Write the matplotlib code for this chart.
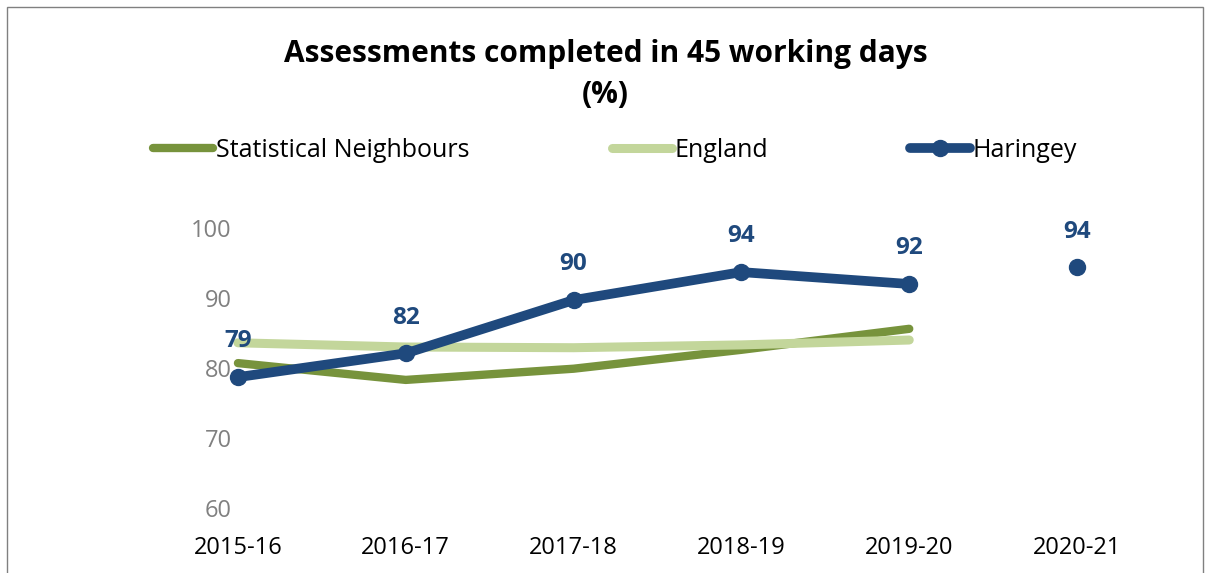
import matplotlib.pyplot as plt
from matplotlib.patches import Rectangle

years = ['2015-16', '2016-17', '2017-18', '2018-19', '2019-20', '2020-21']
stat_neighbours = [80.7, 78.3, 79.9, 82.6, 85.6]
england = [83.6, 83.0, 82.9, 83.3, 84.0]
haringey = [78.7, 82.1, 89.7, 93.7, 92.0, 94.4]
haringey_labels = ['79', '82', '90', '94', '92', '94']

plt.rcParams['font.family'] = ['Open Sans', 'DejaVu Sans']

navy = '#1f497d'
green = '#77933c'
light = '#c3d69b'

fig = plt.figure(figsize=(12.11, 5.73), dpi=100)
ax = fig.add_axes([0.1272, 0.1134, 0.8315, 0.4887])

x = list(range(len(years)))
ax.plot(x[:5], stat_neighbours, color=green, lw=6, solid_capstyle='round',
        solid_joinstyle='round', label='Statistical Neighbours')
ax.plot(x[:5], england, color=light, lw=6.5, solid_capstyle='round',
        solid_joinstyle='round', label='England')
ax.plot(x[:5], haringey[:5], color=navy, lw=7, marker='o', ms=11.5,
        solid_capstyle='round', solid_joinstyle='round', label='Haringey')
ax.plot(x[5:], haringey[5:], color=navy, lw=0, marker='o', ms=11.5)

for xi, v, lab in zip(x, haringey, haringey_labels):
    ax.annotate(lab, (xi, v), xytext=(0, 17), textcoords='offset points',
                ha='center', va='bottom', fontsize=17.5, fontweight='bold', color=navy)

ax.set_xlim(-0.5, 5.5)
ax.set_ylim(60, 100)
ax.set_yticks([60, 70, 80, 90, 100])
ax.set_xticks(x)
ax.set_xticklabels(years)
for s in ax.spines.values():
    s.set_visible(False)
ax.tick_params(axis='both', length=0, labelsize=17)
ax.tick_params(axis='y', colors='#808080', pad=-56)
ax.tick_params(axis='x', colors='black', pad=20)

fig.text(0.5, 0.87, 'Assessments completed in 45 working days\n(%)', ha='center',
         va='center', fontsize=21.5, fontweight='bold', linespacing=1.5)

fig.legend(loc='center', bbox_to_anchor=(0.508, 0.738), ncol=3, frameon=False,
           fontsize=18, handlelength=2.4, handletextpad=0.1, columnspacing=5.7)

fig.patches.append(Rectangle((7 / 1211, -0.1), 1196 / 1211, 1.1 - 7 / 573,
                             transform=fig.transFigure, fill=False,
                             edgecolor='#808080', lw=1))

fig.savefig('out.png', dpi=100)
